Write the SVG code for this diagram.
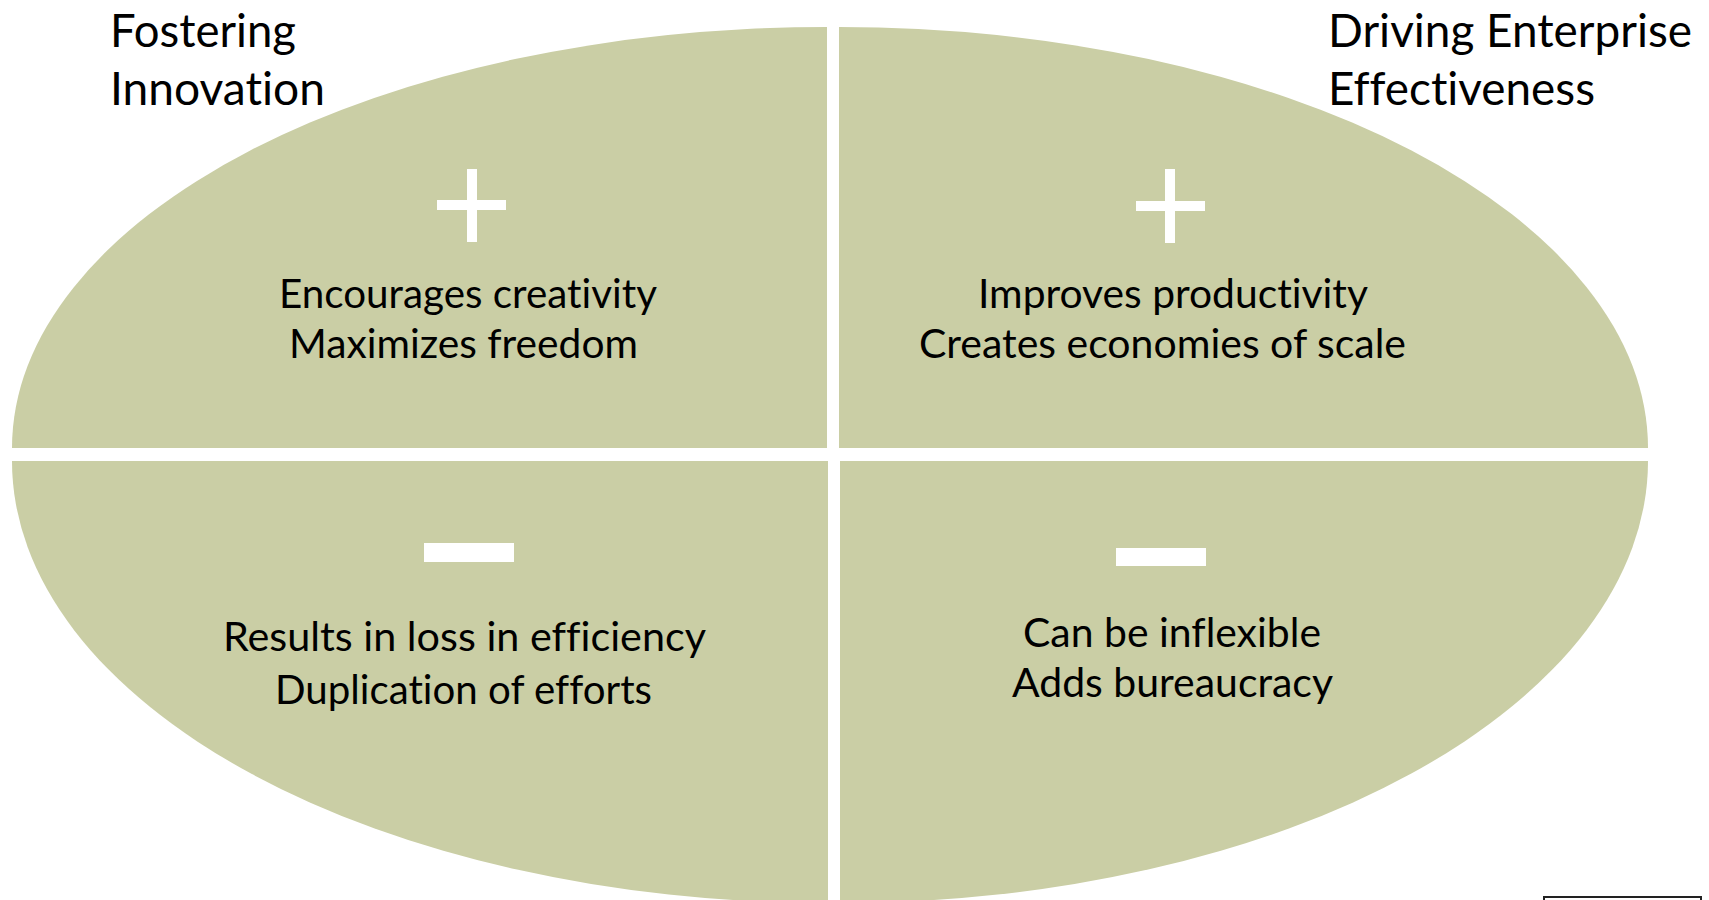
<svg xmlns="http://www.w3.org/2000/svg" width="1709" height="900" viewBox="0 0 1709 900">
  <style>
    .quad { fill: #CACEA5; }
    .sign { fill: #FFFFFF; }
    text { font-variant-ligatures: none; font-feature-settings: "liga" 0, "dlig" 0; }
    .label { font-family: Lato, "Open Sans", "Liberation Sans", sans-serif; font-size: 40px; fill: #000000; }
    .title { font-family: Lato, "Open Sans", "Liberation Sans", sans-serif; font-size: 47px; fill: #000000; }
  </style>
  <rect x="0" y="0" width="1709" height="900" fill="#FFFFFF"/>

  <!-- upper left quarter: pros of innovation -->
  <g id="innovation-pros">
    <path class="quad" d="M 827 448 L 12 448 A 815 421 0 0 1 827 27 Z"/>
    <rect class="sign" x="437" y="200" width="69" height="10"/>
    <rect class="sign" x="467" y="169" width="10" height="73"/>
    <text class="label" x="279" y="308" textLength="378" lengthAdjust="spacingAndGlyphs">Encourages creativity</text>
    <text class="label" x="289" y="358" textLength="349" lengthAdjust="spacingAndGlyphs">Maximizes freedom</text>
  </g>

  <!-- upper right quarter: pros of effectiveness -->
  <g id="effectiveness-pros">
    <path class="quad" d="M 839 448 L 839 27 A 809 421 0 0 1 1648 448 Z"/>
    <rect class="sign" x="1136" y="201" width="69" height="10"/>
    <rect class="sign" x="1165" y="169" width="10" height="74"/>
    <text class="label" x="978" y="308" textLength="390" lengthAdjust="spacingAndGlyphs">Improves productivity</text>
    <text class="label" x="919" y="358" textLength="487" lengthAdjust="spacingAndGlyphs">Creates economies of scale</text>
  </g>

  <!-- lower left quarter: cons of innovation -->
  <g id="innovation-cons">
    <path class="quad" d="M 828 461 L 828 903 A 816 442 0 0 1 12 461 Z"/>
    <rect class="sign" x="424" y="543" width="90" height="19"/>
    <text class="label" x="223" y="651" textLength="483" lengthAdjust="spacingAndGlyphs">Results in loss in efficiency</text>
    <text class="label" x="275" y="704" textLength="377" lengthAdjust="spacingAndGlyphs">Duplication of efforts</text>
  </g>

  <!-- lower right quarter: cons of effectiveness -->
  <g id="effectiveness-cons">
    <path class="quad" d="M 840 461 L 1648 461 A 808 442 0 0 1 840 903 Z"/>
    <rect class="sign" x="1116" y="548" width="90" height="18"/>
    <text class="label" x="1023" y="647" textLength="298" lengthAdjust="spacingAndGlyphs">Can be inflexible</text>
    <text class="label" x="1012" y="697" textLength="321" lengthAdjust="spacingAndGlyphs">Adds bureaucracy</text>
  </g>

  <!-- axis headings -->
  <g id="heading-innovation">
    <text class="title" x="110" y="47" textLength="186" lengthAdjust="spacingAndGlyphs">Fostering</text>
    <text class="title" x="110" y="105" textLength="215" lengthAdjust="spacingAndGlyphs">Innovation</text>
  </g>
  <g id="heading-effectiveness">
    <text class="title" x="1328" y="47" textLength="364" lengthAdjust="spacingAndGlyphs">Driving Enterprise</text>
    <text class="title" x="1328" y="105" textLength="267" lengthAdjust="spacingAndGlyphs">Effectiveness</text>
  </g>

  <!-- box edge at the lower right corner -->
  <rect x="1544" y="897" width="157" height="12" fill="#FFFFFF" stroke="#222222" stroke-width="2"/>
</svg>
